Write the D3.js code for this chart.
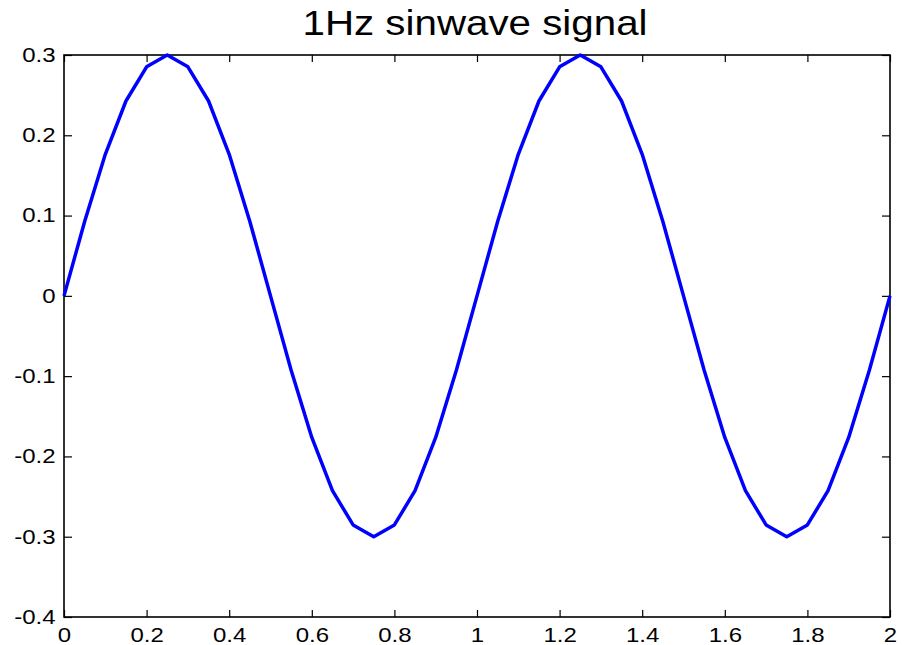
<!DOCTYPE html>
<html lang="en">
<head>
<meta charset="utf-8">
<title>1Hz sinwave signal</title>
<script src="https://d3js.org/d3.v7.min.js"></script>
<style>
  body { margin: 0; background: #fff; }
  svg text { font-family: "Liberation Sans", Arial, sans-serif; fill: #000; }
  .tick-label { font-size: 20px; }
  .title { font-size: 36px; }
</style>
</head>
<body>
<svg id="chart" width="906" height="645"></svg>
<script>
// ---- data ----
var timeValues = [0, 0.05, 0.1, 0.15, 0.2, 0.25, 0.3, 0.35, 0.4, 0.45,
                  0.5, 0.55, 0.6, 0.65, 0.7, 0.75, 0.8, 0.85, 0.9, 0.95,
                  1.0, 1.05, 1.1, 1.15, 1.2, 1.25, 1.3, 1.35, 1.4, 1.45,
                  1.5, 1.55, 1.6, 1.65, 1.7, 1.75, 1.8, 1.85, 1.9, 1.95, 2.0];
var signalValues = [0, 0.0927, 0.1763, 0.2427, 0.2853, 0.3, 0.2853, 0.2427, 0.1763, 0.0927,
                    0, -0.0927, -0.1763, -0.2427, -0.2853, -0.3, -0.2853, -0.2427, -0.1763, -0.0927,
                    0, 0.0927, 0.1763, 0.2427, 0.2853, 0.3, 0.2853, 0.2427, 0.1763, 0.0927,
                    0, -0.0927, -0.1763, -0.2427, -0.2853, -0.3, -0.2853, -0.2427, -0.1763, -0.0927, 0];
var xTicks = [0, 0.2, 0.4, 0.6, 0.8, 1, 1.2, 1.4, 1.6, 1.8, 2];
var yTicks = [-0.4, -0.3, -0.2, -0.1, 0, 0.1, 0.2, 0.3];
var titleText = "1Hz sinwave signal";

// ---- layout ----
var plotL = 64, plotR = 890, plotT = 55, plotB = 617;
var stretch = 1.2;   // the reference text is drawn a bit wide
var svg = d3.select("#chart");

var x = d3.scaleLinear().domain([0, 2]).range([plotL, plotR]);
var y = d3.scaleLinear().domain([-0.4, 0.3]).range([plotB, plotT]);

function fmt(v) { return String(+v.toFixed(1)); }

// frame
svg.append("rect")
  .attr("x", plotL).attr("y", plotT)
  .attr("width", plotR - plotL).attr("height", plotB - plotT)
  .attr("fill", "#fff").attr("stroke", "#000").attr("stroke-width", 1.6);

// axes with inward ticks, MATLAB style
svg.append("g").attr("transform", "translate(0," + plotB + ")")
  .call(d3.axisBottom(x).tickValues(xTicks).tickSize(-7).tickPadding(11).tickFormat(fmt))
  .call(g => g.select(".domain").remove());
svg.append("g").attr("transform", "translate(0," + plotT + ")")
  .call(d3.axisTop(x).tickValues(xTicks).tickSize(-7).tickFormat(""))
  .call(g => g.select(".domain").remove());
svg.append("g").attr("transform", "translate(" + plotL + ",0)")
  .call(d3.axisLeft(y).tickValues(yTicks).tickSize(-8).tickPadding(7).tickFormat(fmt))
  .call(g => g.select(".domain").remove());
svg.append("g").attr("transform", "translate(" + plotR + ",0)")
  .call(d3.axisRight(y).tickValues(yTicks).tickSize(-8).tickFormat(""))
  .call(g => g.select(".domain").remove());

svg.selectAll(".tick line").attr("stroke", "#000").attr("stroke-width", 1.2);
svg.selectAll(".tick text")
  .attr("class", "tick-label")
  .attr("font-size", null).attr("font-family", null)
  .attr("fill", "#000")
  .attr("transform", "scale(" + stretch + ",1)");

// the signal line
var pts = timeValues.map((t, i) => [t, signalValues[i]]);
svg.append("path")
  .datum(pts)
  .attr("fill", "none")
  .attr("stroke", "#0000ff")
  .attr("stroke-width", 3.5)
  .attr("stroke-linejoin", "round")
  .attr("d", d3.line().x(d => x(d[0])).y(d => y(d[1])));

// title
svg.append("text")
  .attr("class", "title")
  .attr("text-anchor", "middle")
  .attr("transform", "translate(" + ((plotL + plotR) / 2 - 2) + ",35) scale(1.12,1)")
  .text(titleText);
</script>
</body>
</html>
